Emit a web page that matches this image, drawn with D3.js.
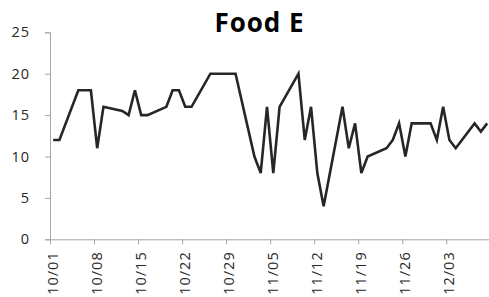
<!DOCTYPE html>
<html>
<head>
<meta charset="utf-8">
<script src="https://cdn.jsdelivr.net/npm/d3@7"></script>
<style>
  html, body { margin: 0; padding: 0; background: #fff; }
  svg { display: block; }
</style>
</head>
<body>
<svg id="chart" width="489" height="297"></svg>
<script>
const title = "Food E";
const dates = ["10/01","10/02","10/05","10/06","10/07","10/08","10/09","10/12","10/13","10/14","10/15","10/16",
  "10/19","10/20","10/21","10/22","10/23","10/26","10/27","10/28","10/29","10/30",
  "11/02","11/03","11/04","11/05","11/06","11/09","11/10","11/11","11/12","11/13",
  "11/16","11/17","11/18","11/19","11/20","11/23","11/24","11/25","11/26","11/27",
  "11/30","12/01","12/02","12/03","12/04","12/07","12/08","12/09"];
const values = [12,12,18,18,18,11,16,15.5,15,18,15,15,
  16,18,18,16,16,20,20,20,20,20,
  10,8,16,8,16,20,12,16,8,4,
  16,11,14,8,10,11,12,14,10,14,
  14,12,16,12,11,14,13,14];
const tickDates = ["10/01","10/08","10/15","10/22","10/29","11/05","11/12","11/19","11/26","12/03"];
const yTicks = [0,5,10,15,20,25];
const year = 2014;

(function () {
const parse = s => { const [m, d] = s.split("/").map(Number); return new Date(Date.UTC(year, m - 1, d)); };
const DAY = 86400000;

const svg = d3.select("#chart");
const mLeft = 50, mBottom = 239.3, mTop = 32.3;
const x0 = parse("10/01"), x1 = new Date(parse("12/09").getTime() + DAY);
const pxPerDay = 6.29;
const mRight = mLeft + 70 * pxPerDay;

const x = d3.scaleUtc().domain([x0, x1]).range([mLeft, mRight]);
const y = d3.scaleLinear().domain([0, 25]).range([mBottom, mTop]);

const axisColor = "#a6a6a6";
const font = "'Open Sans', 'DejaVu Sans', sans-serif";

// Y axis
const yAxis = svg.append("g").attr("transform", `translate(${mLeft},0)`)
  .call(d3.axisLeft(y).tickValues(yTicks).tickSize(5).tickPadding(15).tickFormat(d3.format("d")));
yAxis.select(".domain").attr("stroke", axisColor).attr("stroke-width", 1);
yAxis.selectAll(".tick line").attr("stroke", axisColor);
yAxis.selectAll("text").attr("fill", "#262626").style("font-family", font)
  .style("font-size", "14.5px").style("letter-spacing", "1px");

// X axis
const xAxis = svg.append("g").attr("transform", `translate(0,${mBottom})`)
  .call(d3.axisBottom(x).tickValues(tickDates.map(parse)).tickSize(5).tickSizeOuter(0)
    .tickFormat((d, i) => tickDates[i]));
xAxis.select(".domain").attr("stroke", axisColor).attr("stroke-width", 1);
xAxis.selectAll(".tick line").attr("stroke", axisColor);
xAxis.selectAll("text")
  .attr("fill", "#262626")
  .style("font-family", font).style("font-size", "14.5px").style("letter-spacing", "1px")
  .attr("text-anchor", "end")
  .attr("transform", "rotate(-90)")
  .attr("x", -12).attr("y", 2).attr("dy", "0.35em");

// Line
const pts = dates.map((d, i) => ({ t: new Date(parse(d).getTime() + DAY / 2), v: values[i] }));
svg.append("path")
  .datum(pts)
  .attr("fill", "none")
  .attr("stroke", "#262626")
  .attr("stroke-width", 2.6)
  .attr("stroke-linejoin", "miter")
  .attr("d", d3.line().x(d => x(d.t)).y(d => y(d.v)));

// Title
svg.append("text")
  .attr("x", 259.5).attr("y", 31.7)
  .attr("text-anchor", "middle")
  .style("font-family", font).style("font-weight", "bold").style("font-size", "26px")
  .style("letter-spacing", "1px")
  .attr("fill", "#000")
  .text(title);
})();
</script>
</body>
</html>
